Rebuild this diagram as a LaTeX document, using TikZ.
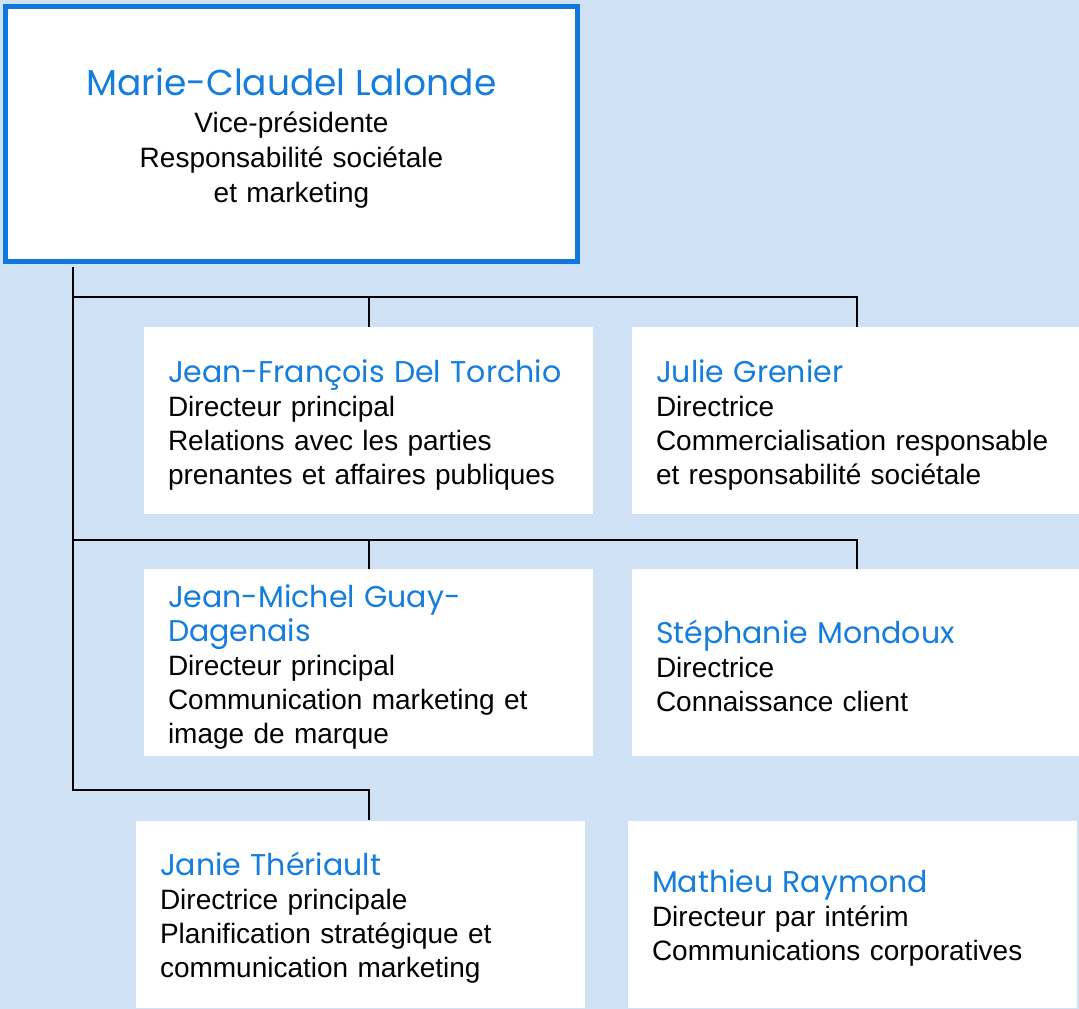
\documentclass[tikz,border=0pt]{standalone}
\usepackage{fontspec}
\setmainfont{Liberation Sans}
\newfontfamily\namefont{Poppins}
\definecolor{bgblue}{RGB}{207,226,245}
\definecolor{nameblue}{RGB}{20,125,222}
\definecolor{bossblue}{RGB}{16,120,220}
\newcommand{\who}[1]{{\namefont\color{nameblue}\fontsize{30}{34}\selectfont#1}}

\begin{document}
\begin{tikzpicture}
[x=1pt,y=-1pt,every node/.style={fill=white,inner sep=0pt,font=\fontsize{28}{34}\selectfont},
card/.style={minimum height=187pt,text width=401pt,inner xsep=24pt,align=left,execute at begin node=\rule{0pt}{31pt}},
link/.style={line width=2pt}]
\fill[bgblue] (0,0) rectangle (1079,1009);
\useasboundingbox (0,0) rectangle (1079,1009);
\node[draw=bossblue,line width=5pt,minimum width=572pt,minimum height=255pt,text width=562pt,align=center] (boss) at (291.5,134)
{\rule{0pt}{35pt}\who{\fontsize{36}{34}\selectfont Marie-Claudel Lalonde}\\[3pt]Vice-présidente\\[1pt]Responsabilité sociétale\\[1pt]et marketing};
\node[card] (JF) at (368.5,420.5) {\who{Jean-François Del Torchio}\\Directeur principal\\Relations avec les parties\\prenantes et affaires publiques};
\node[card] (Julie) at (856.5,420.5) {\who{Julie Grenier}\\Directrice\\Commercialisation responsable\\et responsabilité sociétale};
\node[card] (JM) at (368.5,662.5) {\who{Jean-Michel Guay-}\\\who{Dagenais}\\Directeur principal\\Communication marketing et\\image de marque};
\node[card] (Stephanie) at (856.5,662.5) {\who{Stéphanie Mondoux}\\Directrice\\Connaissance client};
\node[card] (Janie) at (360.5,914) {\who{Janie Thériault}\\Directrice principale\\Planification stratégique et\\communication marketing};
\node[card] (Mathieu) at (852.5,914) {\who{Mathieu Raymond}\\Directeur par intérim\\Communications corporatives};
% trunk and branches
\coordinate (tr) at (73,790);
\coordinate (b1) at (0,297);
\coordinate (b2) at (0,540);
\draw[link,shorten <=2.5pt] (tr |- boss.south) -- (tr) -| (JM.north |- Janie.north);
\draw[link] (tr |- b1) -| (Julie.north);
\draw[link] (tr |- b2) -| (Stephanie.north);
\foreach \to/\at in {JF/b1,JM/b2}
\draw[link] (\to.north |- \at) -- (\to.north);
\end{tikzpicture}
\end{document}
